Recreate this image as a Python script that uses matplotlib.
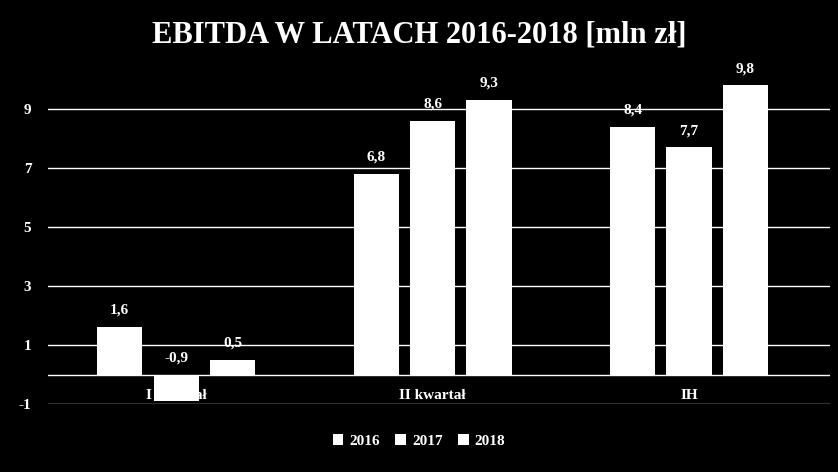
import matplotlib
matplotlib.use("Agg")
import matplotlib.pyplot as plt
import numpy as np

categories = ["I kwartał", "II kwartał", "IH"]
years = ["2016", "2017", "2018"]
v2016 = [1.6, 6.8, 8.4]
v2017 = [-0.9, 8.6, 7.7]
v2018 = [0.5, 9.3, 9.8]
yticks = [-1, 1, 3, 5, 7, 9]

W, H = 838, 472
fig = plt.figure(figsize=(W/100, H/100), dpi=100, facecolor="black")
ax = fig.add_axes([48/W, (H-404)/H, (830-48)/W, (404-50)/H], facecolor="black")
font = dict(family="Liberation Serif", weight="bold", color="white")

x = np.arange(len(categories))
w = 0.176
for i, vals in enumerate([v2016, v2017, v2018]):
    off = (i-1)*0.22
    bars = ax.bar(x+off, vals, w, color="white", label=years[i], zorder=3)
    for b, v in zip(bars, vals):
        top = max(v, 0)
        ax.text(b.get_x()+b.get_width()/2, top+0.35, f"{v:.1f}".replace(".", ","),
                ha="center", va="bottom", fontsize=11, **font, zorder=4)

ax.set_xlim(-0.5, 2.55)
ax.set_ylim(-1, 11)
ax.set_yticks(yticks)
ax.set_yticklabels([str(t) for t in yticks], fontsize=11, **font)
for t in yticks:
    ax.axhline(t, color="white", lw=1, zorder=1)
ax.axhline(0, color="white", lw=1, zorder=2)
ax.tick_params(axis="y", length=0, pad=12)
ax.set_xticks([])
for i, c in enumerate(categories):
    ax.text(i, -0.7, c, ha="center", va="center", fontsize=11, **font, zorder=2)
for s in ax.spines.values():
    s.set_visible(False)

fig.text(0.5, 0.925, "EBITDA W LATACH 2016-2018 [mln zł]", ha="center", va="center",
         fontsize=22, **font)
leg = fig.legend(loc="center", bbox_to_anchor=(0.5, 441/H*0+1-441/H), ncol=3, frameon=False,
                 prop=dict(family="Liberation Serif", weight="bold", size=11),
                 handlelength=0.7, handleheight=0.7, columnspacing=1.0, handletextpad=0.4)
for t in leg.get_texts():
    t.set_color("white")
fig.savefig("out.png", dpi=100, facecolor="black")
